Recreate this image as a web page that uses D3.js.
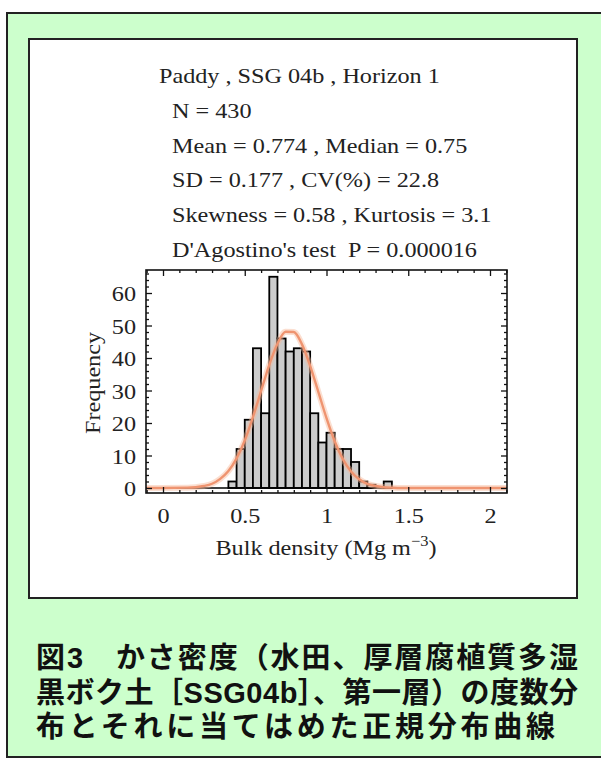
<!DOCTYPE html>
<html><head><meta charset="utf-8">
<script src="https://cdn.jsdelivr.net/npm/d3@7"></script>
<style>
body{margin:0;background:#fff;position:relative;width:601px;height:760px;overflow:hidden}
svg{display:block;position:absolute;left:0;top:0}
.cap{position:absolute;left:36px;white-space:nowrap;font-family:'Liberation Sans','Noto Sans CJK JP','Noto Sans CJK SC',sans-serif;
  font-weight:bold;font-size:29px;line-height:34.5px;height:34.5px;color:#111}
</style>
</head><body>
<script>
// ---- data ----
const binStarts = [0.40,0.45,0.50,0.55,0.60,0.65,0.70,0.75,0.80,0.85,0.90,0.95,1.00,1.05,1.10,1.15,1.20,1.25,1.30,1.35];
const counts    = [2,12,21,43,23,65,46,42,43,42,23,14,17,12,12,8,2,1,0,2];
const binWidth = 0.05;
const curveX = [-0.1,0.15,0.20,0.25,0.30,0.35,0.40,0.45,0.50,0.55,0.60,0.65,0.70,0.75,0.80,0.85,0.90,0.95,1.00,1.05,1.10,1.15,1.20,1.25,1.30,1.35,1.40,1.45,2.1];
const curveY = [0,0.1,0.25,0.6,1.3,2.8,5.2,9.1,14.6,21.8,29.9,37.9,44.4,48.1,48.0,44.2,37.6,29.6,21.5,14.4,8.9,5.1,2.7,1.3,0.6,0.25,0.1,0,0];
const xTicks = [0,0.5,1,1.5,2];
const xTickLabels = ["0","0.5","1","1.5","2"];
const yTicks = [0,10,20,30,40,50,60];
const statLines = [
  "Paddy , SSG 04b , Horizon 1",
  "N = 430",
  "Mean = 0.774 , Median = 0.75",
  "SD = 0.177 , CV(%) = 22.8",
  "Skewness = 0.58 , Kurtosis = 3.1",
  "D'Agostino's test  P = 0.000016"
];
const captionLines = [
  "図3　かさ密度（水田、厚層腐植質多湿",
  "黒ボク土［SSG04b］、第一層）の度数分",
  "布とそれに当てはめた正規分布曲線"
];
const captionWidths = [542, 542, 519];

// ---- drawing ----
const W = 601, H = 760;
const svg = d3.select("body").append("svg").attr("width", W).attr("height", H);
svg.append("rect").attr("x",0).attr("y",0).attr("width",W).attr("height",H).attr("fill","#fff");
svg.append("rect").attr("x",7).attr("y",13).attr("width",600).attr("height",744)
  .attr("fill","#CCFFCC").attr("stroke","#222").attr("stroke-width",2);
svg.append("rect").attr("x",29).attr("y",39).attr("width",548).attr("height",559)
  .attr("fill","#fff").attr("stroke","#222").attr("stroke-width",2);

const serif = "'Liberation Serif','Times New Roman',serif";
const SX = 1.1; // horizontal stretch of the serif text

// stats text
svg.append("g").selectAll("text").data(statLines).join("text")
  .attr("transform",(d,i)=>`translate(${i===0 ? 159 : 172},${83 + i*34.8}) scale(${SX},1)`)
  .attr("font-family",serif).attr("font-size",22).attr("fill","#222")
  .attr("xml:space","preserve")
  .text(d=>d);

// plot
const L=146, R=507, T=270, B=493;
const x = d3.scaleLinear().domain([-0.104,2.104]).range([L,R]);
const y = d3.scaleLinear().domain([-1.54,67.08]).range([B,T]);

const g = svg.append("g");
// bars
g.selectAll("rect.bar").data(binStarts.map((s,i)=>({s, c:counts[i]})).filter(d=>d.c>0))
  .join("rect").attr("class","bar")
  .attr("x",d=>x(d.s)).attr("width",d=>x(d.s+binWidth)-x(d.s))
  .attr("y",d=>y(d.c)).attr("height",d=>y(0)-y(d.c))
  .attr("fill","#CCCCCC").attr("stroke","#000").attr("stroke-width",1.8);

// zero line
g.append("line").attr("x1",L).attr("x2",R).attr("y1",y(0)).attr("y2",y(0))
  .attr("stroke","#000").attr("stroke-width",1.6);

// curve with glow
const line = d3.line().x(d=>x(d[0])).y(d=>y(d[1])).curve(d3.curveMonotoneX);
const pts = curveX.map((v,i)=>[v,curveY[i]]);
g.append("path").attr("d",line(pts)).attr("fill","none")
  .attr("stroke","#F6B89A").attr("stroke-opacity",0.45).attr("stroke-width",6);
g.append("path").attr("d",line(pts)).attr("fill","none")
  .attr("stroke","#EF9470").attr("stroke-width",2.4);

// frame
g.append("rect").attr("x",L).attr("y",T).attr("width",R-L).attr("height",B-T)
  .attr("fill","none").attr("stroke","#111").attr("stroke-width",1.6);

// ticks via axes (inside)
const xMinor = d3.range(-0.1,2.101,0.1).filter(v=>Math.abs(v*2-Math.round(v*2))>1e-6);
const yMinor = d3.range(0,67,2).filter(v=>v%10!==0);
function addAxis(axis, tx){ const a = g.append("g").attr("transform",tx).call(axis);
  a.select(".domain").remove(); a.selectAll("line").attr("stroke","#111").attr("stroke-width",1.3); return a; }
addAxis(d3.axisTop(x).tickValues(xTicks).tickSize(6).tickFormat(""), `translate(0,${B})`);
addAxis(d3.axisTop(x).tickValues(xMinor).tickSize(3).tickFormat(""), `translate(0,${B})`);
addAxis(d3.axisBottom(x).tickValues(xTicks).tickSize(6).tickFormat(""), `translate(0,${T})`);
addAxis(d3.axisBottom(x).tickValues(xMinor).tickSize(3).tickFormat(""), `translate(0,${T})`);
addAxis(d3.axisRight(y).tickValues(yTicks).tickSize(6).tickFormat(""), `translate(${L},0)`);
addAxis(d3.axisRight(y).tickValues(yMinor).tickSize(3).tickFormat(""), `translate(${L},0)`);
addAxis(d3.axisLeft(y).tickValues(yTicks).tickSize(6).tickFormat(""), `translate(${R},0)`);
addAxis(d3.axisLeft(y).tickValues(yMinor).tickSize(3).tickFormat(""), `translate(${R},0)`);

// tick labels
const xl = d3.axisBottom(x).tickValues(xTicks).tickSize(0).tickPadding(0).tickFormat((d,i)=>xTickLabels[i]);
const xa = g.append("g").attr("transform",`translate(0,${B+30})`).call(xl);
xa.select(".domain").remove();
xa.selectAll("text").attr("font-family",serif).attr("font-size",22).attr("fill","#222")
  .attr("dy",0).attr("transform",`scale(${SX},1)`);
const yl = d3.axisLeft(y).tickValues(yTicks).tickSize(0).tickPadding(0);
const ya = g.append("g").attr("transform",`translate(136,0)`).call(yl);
ya.select(".domain").remove();
ya.selectAll("text").attr("font-family",serif).attr("font-size",22).attr("fill","#222")
  .attr("dy","0.35em").attr("transform",`scale(${SX},1)`);

// axis titles
const xt = svg.append("text").attr("transform",`translate(326,555) scale(${SX},1)`).attr("text-anchor","middle")
  .attr("font-family",serif).attr("font-size",22).attr("fill","#222");
xt.append("tspan").text("Bulk density (Mg m");
xt.append("tspan").attr("font-size",15).attr("dy",-9).text("\u22123");
xt.append("tspan").attr("dy",9).text(")");
svg.append("text").attr("transform",`translate(100,383) rotate(-90) scale(${SX},1)`).attr("text-anchor","middle")
  .attr("font-family",serif).attr("font-size",22).attr("fill","#222").text("Frequency");

// caption as HTML lines (line boxes do not overlap)
const caps = d3.select("body").selectAll("div.cap").data(captionLines).join("div")
  .attr("class","cap").style("top",(d,i)=>(641 + i*34.5)+"px").text(d=>d);
caps.each(function(d,i){
  const n = Array.from(d).length;
  const w = this.getBoundingClientRect().width;
  const ls = (captionWidths[i] - w) / Math.max(1, n - 1);
  d3.select(this).style("letter-spacing", ls + "px");
});
</script>
</body></html>
